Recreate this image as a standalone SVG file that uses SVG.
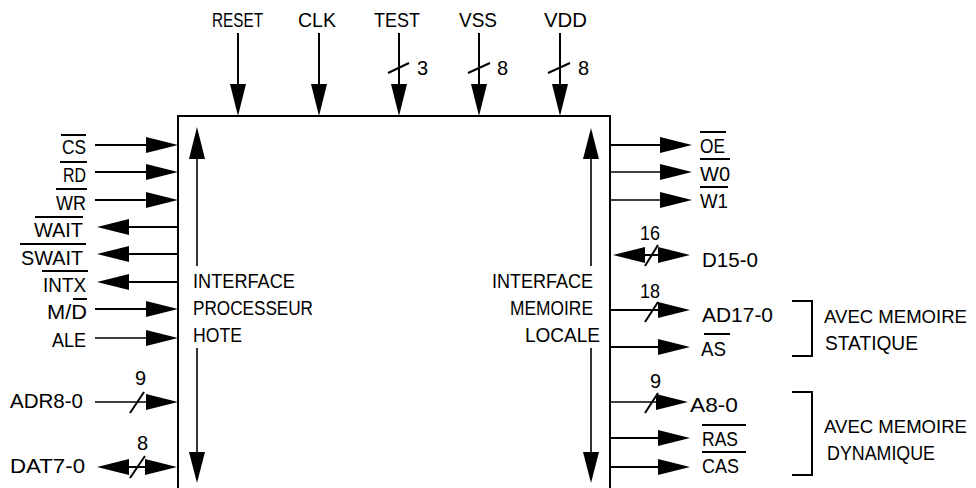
<svg xmlns="http://www.w3.org/2000/svg" width="976" height="488" viewBox="0 0 976 488">
<style>
text{font-family:"Liberation Sans",Arial,sans-serif;font-size:20px;fill:#000}
.s{stroke:#000;stroke-width:2;fill:none}
.t{stroke:#000;stroke-width:1.6;fill:none}
.a{marker-end:url(#ah)}
.b{marker-start:url(#ah);marker-end:url(#ah)}
.ol{stroke:#000;stroke-width:2}
.e{text-anchor:end}
.g{font-size:18px}
</style>
<defs>
<marker id="ah" viewBox="0 0 32 16" refX="28" refY="8" markerWidth="32" markerHeight="16" markerUnits="userSpaceOnUse" orient="auto-start-reverse">
<path d="M0,0 L32,8 L0,16 z" fill="#000"/>
</marker>
</defs>
<g id="chip">
<path class="s" d="M178,488 V116 H610 V488"/>
<text x="193" y="288" textLength="102" lengthAdjust="spacingAndGlyphs">INTERFACE</text>
<text x="193" y="315" textLength="120" lengthAdjust="spacingAndGlyphs">PROCESSEUR</text>
<text x="193" y="342" textLength="49" lengthAdjust="spacingAndGlyphs">HOTE</text>
<text x="492" y="288" textLength="101" lengthAdjust="spacingAndGlyphs">INTERFACE</text>
<text x="510" y="315" textLength="83" lengthAdjust="spacingAndGlyphs">MEMOIRE</text>
<text x="525" y="342" textLength="75" lengthAdjust="spacingAndGlyphs">LOCALE</text>
<g id="host-bus">
<line class="t" x1="197" y1="155" x2="197" y2="266"/>
<line class="t" x1="197" y1="348" x2="197" y2="456"/>
<polygon points="197,127 189,159 205,159"/>
<polygon points="197,483 189,452 205,452"/>
</g>
<g id="mem-bus">
<line class="t" x1="591" y1="155" x2="591" y2="266"/>
<line class="t" x1="591" y1="348" x2="591" y2="456"/>
<polygon points="591,128 583,159 599,159"/>
<polygon points="591,483 583,452 599,452"/>
</g>
</g>
<g id="top-labels">
<text x="212" y="27" textLength="51" lengthAdjust="spacingAndGlyphs">RESET</text>
<text x="298" y="27" textLength="38" lengthAdjust="spacingAndGlyphs">CLK</text>
<text x="374" y="27" textLength="46" lengthAdjust="spacingAndGlyphs">TEST</text>
<text x="459" y="27" textLength="38" lengthAdjust="spacingAndGlyphs">VSS</text>
<text x="544" y="27" textLength="43" lengthAdjust="spacingAndGlyphs">VDD</text>
<text x="417" y="75">3</text>
<text x="497" y="75">8</text>
<text x="578" y="75">8</text>
</g>
<g id="left-labels">
<text class="e" x="86" y="154" textLength="24" lengthAdjust="spacingAndGlyphs">CS</text>
<text class="e" x="86" y="182" textLength="23" lengthAdjust="spacingAndGlyphs">RD</text>
<text class="e" x="86" y="210" textLength="30" lengthAdjust="spacingAndGlyphs">WR</text>
<text class="e" x="83" y="237" textLength="49" lengthAdjust="spacingAndGlyphs">WAIT</text>
<text class="e" x="83" y="265" textLength="62" lengthAdjust="spacingAndGlyphs">SWAIT</text>
<text class="e" x="86" y="292" textLength="43" lengthAdjust="spacingAndGlyphs">INTX</text>
<text class="e" x="87" y="319" textLength="40" lengthAdjust="spacingAndGlyphs">M/D</text>
<text class="e" x="86" y="347" textLength="34" lengthAdjust="spacingAndGlyphs">ALE</text>
<text x="10" y="408" textLength="73" lengthAdjust="spacingAndGlyphs">ADR8-0</text>
<text x="10" y="473" textLength="75" lengthAdjust="spacingAndGlyphs">DAT7-0</text>
<text x="135" y="385">9</text>
<text x="137" y="450">8</text>
<line class="ol" x1="61" y1="135" x2="86" y2="135"/>
<line class="ol" x1="60" y1="162" x2="87" y2="162"/>
<line class="ol" x1="56" y1="189" x2="87" y2="189"/>
<line class="ol" x1="35" y1="217" x2="83" y2="217"/>
<line class="ol" x1="20" y1="244" x2="86" y2="244"/>
<line class="ol" x1="42" y1="271" x2="88" y2="271"/>
<line class="ol" x1="73" y1="299" x2="87" y2="299"/>
</g>
<g id="right-labels">
<text x="700" y="153" textLength="25" lengthAdjust="spacingAndGlyphs">OE</text>
<text x="700" y="181" textLength="30" lengthAdjust="spacingAndGlyphs">W0</text>
<text x="700" y="208" textLength="28" lengthAdjust="spacingAndGlyphs">W1</text>
<text x="640" y="240" textLength="20" lengthAdjust="spacingAndGlyphs">16</text>
<text x="702" y="267" textLength="56" lengthAdjust="spacingAndGlyphs">D15-0</text>
<text x="640" y="298" textLength="20" lengthAdjust="spacingAndGlyphs">18</text>
<text x="702" y="322" textLength="71" lengthAdjust="spacingAndGlyphs">AD17-0</text>
<text x="701" y="356" textLength="25" lengthAdjust="spacingAndGlyphs">AS</text>
<text x="650" y="388">9</text>
<text x="690" y="412" textLength="48" lengthAdjust="spacingAndGlyphs">A8-0</text>
<text x="702" y="446" textLength="36" lengthAdjust="spacingAndGlyphs">RAS</text>
<text x="702" y="473" textLength="37" lengthAdjust="spacingAndGlyphs">CAS</text>
<line class="ol" x1="700" y1="132" x2="726" y2="132"/>
<line class="ol" x1="700" y1="159" x2="730" y2="159"/>
<line class="ol" x1="700" y1="187" x2="728" y2="187"/>
<line class="ol" x1="704" y1="334" x2="730" y2="334"/>
<line class="ol" x1="702" y1="425" x2="746" y2="425"/>
<line class="ol" x1="702" y1="452" x2="746" y2="452"/>
</g>
<g id="static-group">
<path class="s" d="M792,301 H812 V356 H792" stroke-width="2.5"/>
<text class="g" x="824" y="323" textLength="143" lengthAdjust="spacingAndGlyphs">AVEC MEMOIRE</text>
<text x="825" y="350" textLength="93" lengthAdjust="spacingAndGlyphs">STATIQUE</text>
</g>
<g id="dynamic-group">
<path class="s" d="M792,392 H812 V475 H792" stroke-width="2.5"/>
<text class="g" x="824" y="433" textLength="143" lengthAdjust="spacingAndGlyphs">AVEC MEMOIRE</text>
<text x="827" y="460" textLength="108" lengthAdjust="spacingAndGlyphs">DYNAMIQUE</text>
</g>
<g id="connectors">
<line class="s a" x1="238" y1="33" x2="238" y2="112"/>
<line class="s a" x1="319" y1="33" x2="319" y2="112"/>
<line class="s a" x1="399" y1="33" x2="399" y2="112"/>
<line class="s a" x1="479" y1="33" x2="479" y2="112"/>
<line class="s a" x1="560" y1="33" x2="560" y2="112"/>
<line class="s" x1="388" y1="73" x2="409" y2="63"/>
<line class="s" x1="468" y1="73" x2="490" y2="63"/>
<line class="s" x1="548" y1="73" x2="570" y2="63"/>
<line class="s a" x1="95" y1="145" x2="174" y2="145"/>
<line class="s a" x1="95" y1="172" x2="174" y2="172"/>
<line class="s a" x1="95" y1="200" x2="174" y2="200"/>
<line class="s a" x1="178" y1="227" x2="101" y2="227"/>
<line class="s a" x1="178" y1="254" x2="101" y2="254"/>
<line class="s a" x1="178" y1="282" x2="101" y2="282"/>
<line class="s a" x1="95" y1="309" x2="174" y2="309"/>
<line class="t a" x1="95" y1="338" x2="174" y2="338"/>
<line class="t a" x1="95" y1="402" x2="174" y2="402"/>
<line class="s" x1="130" y1="413" x2="144" y2="392"/>
<line class="s b" x1="101" y1="467" x2="173" y2="467"/>
<line class="s" x1="130" y1="478" x2="145" y2="456"/>
<line class="s a" x1="610" y1="145" x2="688" y2="145"/>
<line class="t a" x1="610" y1="172" x2="688" y2="172"/>
<line class="t a" x1="610" y1="200" x2="688" y2="200"/>
<line class="s b" x1="617" y1="255" x2="686" y2="255"/>
<line class="s" x1="645" y1="266" x2="658" y2="245"/>
<line class="s a" x1="610" y1="310" x2="686" y2="310"/>
<line class="s" x1="645" y1="322" x2="658" y2="302"/>
<line class="s a" x1="610" y1="347" x2="686" y2="347"/>
<line class="t a" x1="610" y1="402" x2="684" y2="402"/>
<line class="s" x1="645" y1="413" x2="658" y2="393"/>
<line class="s a" x1="610" y1="438" x2="686" y2="438"/>
<line class="s a" x1="610" y1="467" x2="686" y2="467"/>
</g>
</svg>
